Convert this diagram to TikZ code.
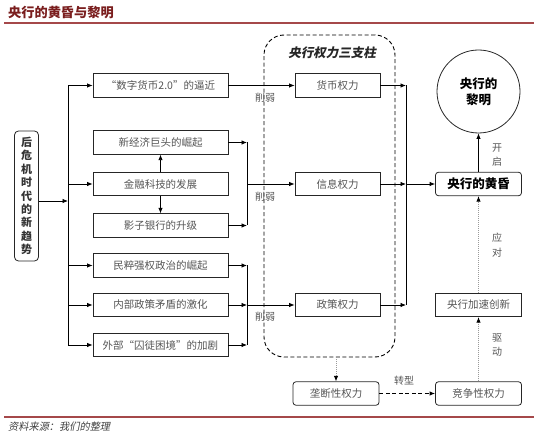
\documentclass[tikz,border=0pt]{standalone}
\usepackage{fontspec}
\setmainfont{Noto Sans CJK SC}
\newfontfamily\cjkit[FakeSlant=0.2]{Noto Sans CJK SC}
\usetikzlibrary{arrows.meta}
\definecolor{titlered}{HTML}{7A1E1E}
\definecolor{rulered}{HTML}{A5484A}
\definecolor{txtgray}{HTML}{555555}
\definecolor{dotgray}{HTML}{9A9A9A}
\tikzset{
  box/.style={draw=black!85, line width=0.8pt, minimum width=135pt, minimum height=23.5pt, inner sep=0pt, font=\fontsize{10.5}{12}\selectfont, text=txtgray},
  midbox/.style={box, minimum width=85pt},
  rbox/.style={box, minimum width=86pt, rounded corners=3pt},
  conn/.style={line width=0.8pt, draw=black},
  arr/.style={conn, -{Latex[length=5.5pt,width=4.5pt]}},
  dotarr/.style={draw=dotgray, line width=0.8pt, dash pattern=on 1pt off 1pt, -{Latex[length=5.5pt,width=4.5pt,color=black]}},
  lbl/.style={font=\fontsize{10}{14.5}\selectfont, text=txtgray, align=center, inner sep=0pt},
  rulerline/.style={draw=rulered, line width=2pt}
}
\begin{document}
\begin{tikzpicture}[x=1pt,y=-1pt]
\useasboundingbox (0,0) rectangle (550,441);
% header and footer
\node[anchor=west, text=titlered, font=\fontsize{13.2}{15}\selectfont\bfseries, inner sep=0pt] (title) at (8,12.5) {央行的黄昏与黎明};
\coordinate (rtl) at (4,23); \coordinate (rtr) at (534,23);
\draw[rulerline] (rtl) -- (rtr);
\coordinate (rbl) at (4,417); \coordinate (rbr) at (534,417);
\draw[rulerline] (rbl) -- (rbr);
\node[anchor=west, text=black!75, font=\fontsize{10.2}{12}\selectfont\cjkit, inner sep=0pt] (src) at (8,426.5) {资料来源：我们的整理};

% left trend box
\node[draw=black!85, line width=0.8pt, rounded corners=4pt, minimum width=24pt, minimum height=130pt, inner sep=0pt, align=center, font=\fontsize{11}{13.4}\selectfont\bfseries, text=black!80] (L) at (26.5,196) {后\\危\\机\\时\\代\\的\\新\\趋\\势};

% left column boxes
\node[box] (b1) at (160.5,85.5) {“数字货币2.0”的逼近};
\node[box] (b2) at (160.5,142.5) {新经济巨头的崛起};
\node[box] (b3) at (160.5,184) {金融科技的发展};
\node[box] (b4) at (160.5,225.5) {影子银行的升级};
\node[box] (b5) at (160.5,265.5) {民粹强权政治的崛起};
\node[box] (b6) at (160.5,305) {内部政策矛盾的激化};
\node[box] (b7) at (160.5,345) {外部“囚徒困境”的加剧};

% pillars container
\node[draw=black, line width=0.9pt, dash pattern=on 4pt off 2.5pt, rounded corners=20pt, minimum width=131pt, minimum height=322pt, inner sep=0pt] (pillars) at (329.5,196) {};
\node[font=\fontsize{12.5}{14}\selectfont\cjkit\bfseries, text=black!85, inner sep=0pt] (ptitle) at (332,53) {央行权力三支柱};

\node[midbox] (p1) at (337.5,85.5) {货币权力};
\node[midbox] (p2) at (337.5,184) {信息权力};
\node[midbox] (p3) at (337.5,305) {政策权力};

% right column
\node[rbox, font=\fontsize{12.5}{14}\selectfont\bfseries, text=black] (dusk) at (478.5,184) {央行的黄昏};
\node[draw=black!85, line width=0.8pt, circle, minimum size=83pt, inner sep=0pt, align=center, font=\fontsize{12.5}{16}\selectfont\bfseries, text=black] (dawn) at (478.5,91.5) {央行的\\黎明};
\node[box, minimum width=86pt] (innov) at (478.5,305) {央行加速创新};
\node[rbox] (comp) at (478.5,393.5) {竞争性权力};
\node[rbox] (mono) at (336,393.5) {垄断性权力};

% bus from left box
\coordinate (busL) at (68,201);
\coordinate (busT) at (68,85.5);
\coordinate (busB) at (68,345);
\draw[conn] (busT) -- (busB);
\draw[arr] (L.east |- busL) -- (busL);
\draw[arr] (busT) -- (b1.west);
\draw[arr] (b3.west -| busT) -- (b3.west);
\draw[arr] (b5.west -| busT) -- (b5.west);
\draw[arr] (b6.west -| busT) -- (b6.west);
\draw[arr] (busB) -- (b7.west);

\draw[arr] (b3.north) -- (b2.south);
\draw[arr] (b3.south) -- (b4.north);

% merge 1
\coordinate (m1t) at (247,142.5);
\coordinate (m1b) at (247,225.5);
\draw[conn] (m1t) -- (m1b);
\draw[arr] (b2.east) -- (m1t);
\draw[arr] (b4.east) -- (m1b);
\draw[arr] (b3.east -| m1t) -- (p2.west);

% merge 2
\coordinate (m2t) at (247,265.5);
\coordinate (m2b) at (247,345);
\coordinate (m2m) at (247,305);
\draw[conn] (m2t) -- (m2b);
\draw[arr] (b5.east) -- (m2t);
\draw[arr] (b7.east) -- (m2b);
\draw[arr] (b6.east) -- (m2m);
\draw[arr] (m2m) -- (p3.west);

\draw[arr] (b1.east) -- (p1.west);

\node[lbl] (w1) at (265,97.5) {削弱};
\node[lbl] (w2) at (265,196.5) {削弱};
\node[lbl] (w3) at (265,317) {削弱};

% merge 3
\coordinate (m3t) at (406,85.5);
\coordinate (m3b) at (406,305);
\coordinate (m3m) at (406,184);
\draw[conn] (m3t) -- (m3b);
\draw[arr] (p1.east) -- (m3t);
\draw[arr] (p2.east) -- (m3m);
\draw[arr] (p3.east) -- (m3b);
\draw[arr] (m3m) -- (dusk.west);

\draw[arr] (dusk.north) -- (dawn.south);
\node[lbl] (l1) at (497,155) {开\\启};
\draw[dotarr] (innov.north) -- (dusk.south);
\node[lbl] (l2) at (497,245) {应\\对};
\draw[dotarr] (comp.north) -- (innov.south);
\node[lbl] (l3) at (497,345) {驱\\动};

\draw[dotarr] (pillars.south -| mono.north) -- (mono.north);
\draw[line width=0.9pt, dash pattern=on 4pt off 2.5pt, -{Latex[length=5.5pt,width=4.5pt]}] (mono.east) -- (comp.west);
\node[lbl] (l4) at (404,381) {转型};
\end{tikzpicture}
\end{document}
